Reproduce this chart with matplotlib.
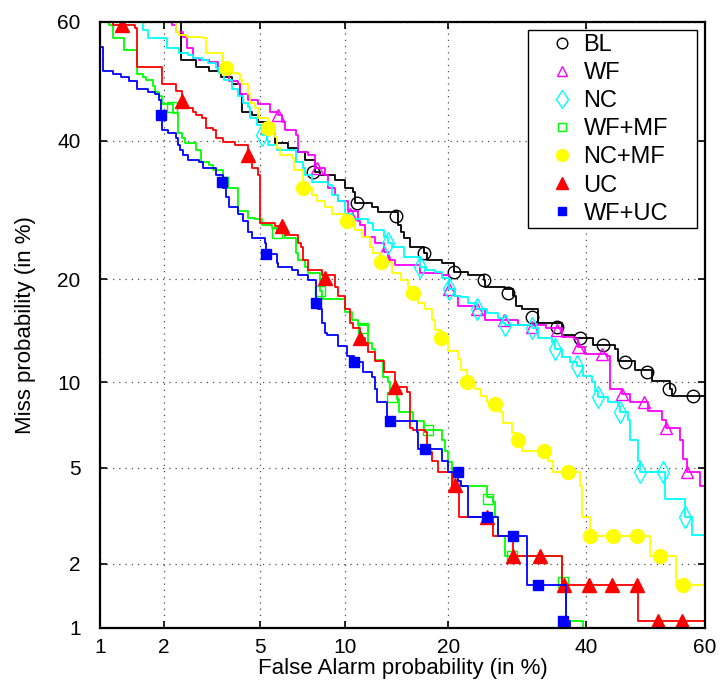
import math
import numpy as np
import matplotlib
matplotlib.use('Agg')
import matplotlib.pyplot as plt

plt.rcParams['font.family'] = ['Liberation Sans', 'DejaVu Sans']

# DET curves: (false alarm %, miss %) step points
bl_curve = [(2.39, 65), (2.39, 53.7), (2.75, 52.5), (3.13, 51.7), (3.52, 50.7), (3.9, 49.5),
            (4.2, 47.8), (4.28, 44.8), (4.68, 44.3), (4.92, 43.2), (5.38, 42.2), (5.71, 39.7),
            (6.39, 38.8), (6.94, 38.2), (7.35, 36.9), (7.94, 35), (8.27, 34.5), (9.29, 33.8),
            (10.0, 32.5), (10.64, 31.9), (10.8, 30.3), (12.18, 29.6), (12.73, 28.9), (14.55, 27.1),
            (14.9, 26.1), (15.2, 25.3), (15.8, 24), (17.2, 23.2), (17.6, 22.4), (19.3, 22),
            (20.7, 20.9), (22.4, 20.5), (24.5, 19.9), (24.7, 19.1), (27.5, 18.8), (28.6, 18),
            (29.1, 16.9), (29.9, 16.6), (32.4, 15.2), (36.1, 14), (38.1, 13.7), (41.2, 13.1),
            (44.8, 12.7), (45.3, 11.7), (48.2, 11.0), (51.1, 10.1), (54.2, 9.5), (54.5, 9.0),
            (62, 9.0)]
wf_curve = [(2.18, 65), (2.18, 59.5), (2.27, 58.3), (2.43, 57.5), (2.53, 55.7), (2.67, 54),
            (2.83, 53.7), (3.13, 53.3), (3.42, 51.7), (3.61, 51.2), (3.77, 50), (4.12, 49.5),
            (4.2, 47.8), (4.52, 46.9), (4.92, 46.1), (5.48, 44.8), (5.86, 44.3), (6.06, 43.2),
            (6.22, 41.8), (6.78, 41), (6.94, 38.2), (7.53, 37.7), (7.94, 35.6), (8.6, 34.5),
            (8.8, 32.5), (9.29, 31.5), (9.5, 30.5), (10.24, 29), (11.04, 27.6), (11.2, 27.1),
            (11.6, 25.4), (12.45, 24.6), (13.2, 23.4), (13.6, 22.4), (14.27, 21.75), (16.84, 20.75),
            (19.3, 20.5), (20.1, 18.9), (20.8, 18), (21.2, 16.9), (23.5, 16.6), (24.7, 15.5),
            (29.3, 15), (33.5, 14.7), (36.1, 13.8), (38.1, 13.6), (38.7, 12.9), (39.8, 12.3),
            (43.5, 12.1), (44, 9.5), (46, 9.14), (47.3, 8.6), (50.4, 8), (52.8, 7.5),
            (53.5, 7), (55.8, 6.37), (56.3, 5.38), (57, 4.84), (59.2, 4.24), (62, 4.24)]
nc_curve = [(1.61, 65), (1.61, 58.7), (1.7, 57.3), (2.07, 55.7), (2.32, 54.8), (2.56, 54.5),
            (2.67, 54), (2.94, 53.7), (3.1, 53.2), (3.35, 52.3), (3.45, 51.5), (3.61, 50.3),
            (3.9, 48.7), (4.12, 47.5), (4.32, 46.4), (4.48, 45.7), (4.6, 43.8), (4.88, 42.7),
            (5.1, 41), (5.33, 40.2), (5.38, 39.3), (5.81, 38.5), (6.78, 36.6), (7.18, 35.6),
            (7.35, 34.5), (7.76, 33.5), (8.8, 33), (9.07, 31.5), (9.5, 30.5), (10, 28.6),
            (10.56, 27.9), (11.84, 27.4), (12.27, 26.4), (13.2, 25.4), (13.6, 24.6), (14, 24.1),
            (15.2, 22.8), (16.84, 21.5), (17.4, 21.1), (18.5, 20.9), (19.3, 20.1), (20.1, 18.9),
            (20.8, 18), (21.6, 17.9), (22.4, 17.3), (23.6, 16.6), (25, 16.2), (26.5, 15.7),
            (27.2, 15.2), (27.5, 15), (31.4, 14.7), (32.4, 13.7), (34.5, 13.4), (35, 12.7),
            (36.1, 12), (37.4, 11.6), (38.5, 11.3), (39.5, 10.5), (41, 10), (41.5, 9.36),
            (42, 8.93), (43.7, 8.6), (45.3, 8.33), (45.7, 7.94), (47, 7.5), (47.3, 6.37),
            (48.7, 5.29), (49, 4.8), (53.3, 3.77), (56.7, 3.2), (57.8, 2.68), (62, 2.68)]
wfmf_curve = [(1.11, 65), (1.11, 59.5), (1.16, 57.3), (1.3, 55.3), (1.5, 51.2), (1.61, 50.8),
              (1.65, 50.3), (1.78, 49.2), (1.83, 48.2), (1.89, 47.5), (1.96, 46.1), (2.2, 44.7),
              (2.3, 41.3), (2.41, 40.5), (2.48, 39.7), (2.75, 38.5), (2.89, 36.6), (3.13, 36.1),
              (3.26, 35.3), (3.58, 33.5), (3.74, 32.5), (4.12, 29), (4.52, 28.1), (4.8, 27.9),
              (5.1, 27.1), (5.57, 26.7), (5.81, 26), (6.22, 25.3), (6.78, 23.3), (6.94, 22.4),
              (7.35, 21.5), (7.53, 20.75), (8.27, 18.6), (8.4, 17.7), (10, 16.3), (10.56, 15.5),
              (11.04, 15), (11.84, 13.3), (12.18, 12.7), (12.45, 11.8), (13.1, 10.4), (13.6, 10),
              (13.8, 9.36), (14.45, 8.8), (14.7, 7.94), (16.05, 7.4), (17.2, 6.9), (19.3, 6.37),
              (19.6, 5.76), (20, 5.24), (20.5, 4.92), (20.6, 4.44), (21.4, 4.24), (25, 3.83),
              (25.8, 3.67), (26.1, 3.2), (26.4, 2.66), (27.5, 2.16), (36.1, 1.65), (36.8, 1.08),
              (39.5, 0.9)]
ncmf_curve = [(2.25, 65), (2.25, 58.3), (2.32, 57.8), (2.53, 57.5), (2.97, 57.3), (3.03, 54.8),
              (3.58, 52.3), (3.9, 51.5), (4.12, 51.2), (4.2, 50.3), (4.28, 49.5), (4.48, 47.8),
              (4.6, 46.4), (4.8, 45.5), (4.92, 43.8), (5.38, 42.2), (5.71, 40.7), (5.81, 38.8),
              (5.95, 37.7), (6.6, 37.3), (6.67, 35.3), (7.18, 35), (7.23, 32.5), (7.76, 31.5),
              (8.07, 30.5), (8.6, 29.6), (9.07, 28.6), (10, 27.6), (10.8, 26.4), (11.36, 25.4),
              (12, 24.1), (12.27, 23.3), (13, 22.1), (14, 20.75), (14.9, 19.9), (15.6, 19.1),
              (16.1, 18.4), (16.6, 17.3), (17.4, 16.6), (18.1, 15.5), (18.5, 14.5), (19.2, 13.7),
              (20, 12.6), (21.2, 11.84), (21.6, 11), (22.3, 10), (23.4, 9.5), (24.1, 9),
              (25, 8.6), (26, 8.47), (26.8, 7.94), (27.2, 7.31), (28.4, 6.7), (29.4, 6.37),
              (29.9, 5.8), (33.8, 5.29), (34.7, 4.8), (39, 4.24), (39.3, 3.2), (40.7, 2.66),
              (50.7, 2.16), (55.2, 1.61), (62, 1.61)]
uc_curve = [(1.16, 65), (1.16, 59.5), (1.47, 59), (1.5, 52.5), (1.96, 49.5), (2.25, 48.3),
            (2.41, 46.6), (2.48, 45.5), (2.67, 44.8), (2.75, 44.3), (2.94, 43.8), (3.03, 42.2),
            (3.26, 41.8), (3.35, 40.5), (3.58, 39.8), (4, 39.3), (4.48, 37.7), (4.6, 36.6),
            (4.68, 35.6), (4.92, 34.5), (5.0, 27.4), (5.71, 26.9), (6.22, 25.7), (6.89, 24.6),
            (7.06, 24.1), (7.23, 22.4), (7.53, 21.1), (8.4, 20.5), (9.29, 19.1), (9.5, 18),
            (10, 16.6), (10.4, 15.2), (10.64, 14.7), (11.2, 13.7), (11.6, 13.3), (11.84, 12.5),
            (12.45, 11.7), (13.2, 10.8), (14.27, 9.64), (15.44, 9.3), (15.8, 7.0), (16.05, 6.9),
            (17.4, 6.8), (17.6, 5.71), (18.1, 5.29), (18.8, 4.8), (20.5, 4.2), (21.3, 3.2),
            (25.8, 2.66), (28.6, 2.16), (36.1, 1.61), (48.7, 1.08), (62, 1.08)]
wfuc_curve = [(0.9, 55.8), (1.03, 51.7), (1.16, 51.2), (1.27, 50.7), (1.38, 50), (1.5, 48.7),
              (1.7, 48.2), (1.83, 47.8), (1.89, 46.9), (1.94, 44.3), (1.96, 41.8), (2.09, 41.3),
              (2.25, 40.5), (2.3, 39.3), (2.36, 38.5), (2.43, 37.7), (2.56, 36.9), (2.83, 36.6),
              (2.97, 35.6), (3.35, 34.5), (3.58, 32.5), (3.68, 31.2), (3.77, 29.6), (4.12, 28.6),
              (4.32, 27.6), (4.52, 26.1), (4.68, 25.3), (5.24, 24.6), (5.29, 23.1), (5.81, 22),
              (5.86, 21.5), (6.6, 21.1), (6.89, 20.5), (7.53, 19.9), (8, 17.3), (8.13, 16.6),
              (8.4, 15.2), (8.6, 14.2), (8.73, 14), (9.5, 13), (10.16, 12.1), (10.72, 11.6),
              (11.44, 10.8), (12.18, 10.4), (12.45, 9.5), (12.6, 8.6), (13.55, 7.4), (16.5, 6.8),
              (16.6, 5.86), (19.3, 5.29), (20, 4.8), (21.2, 4.44), (21.6, 4.24), (22.4, 3.2),
              (26.4, 2.66), (30.6, 1.61), (36.8, 1.08), (37.4, 0.9)]

# marker positions along each curve
bl_marks = [(7.8, 35), (10.9, 30.3), (14.4, 28.3), (17.2, 23.2), (20.7, 20.9), (24.5, 19.9),
            (27.9, 18.4), (31.4, 15.8), (35.3, 14.8), (39, 13.7), (42.8, 13.1), (46.5, 11.6),
            (50.2, 10.8), (54, 9.5), (58, 9)]
wf_marks = [(5.86, 44.3), (8.05, 35.6), (10.4, 28.6), (13.2, 23.4), (20.1, 18.9), (23.6, 16.6),
            (27.3, 15.5), (31.4, 14.8), (35.3, 14.5), (38.7, 12.9), (42.7, 12.3), (46, 9.14),
            (49.8, 8.6), (53.5, 7), (57, 4.84)]
nc_marks = [(5.1, 41), (13.6, 24.6), (16.8, 21.5), (20.1, 18.9), (23.6, 16.6), (27.5, 15),
            (31.4, 14.7), (35, 12.7), (38.5, 11.3), (42, 8.93), (45.7, 7.94), (49, 4.8),
            (53, 4.8), (56.7, 3.2)]
wfmf_marks = [(2.18, 45.7), (3.58, 33.5), (5.81, 26), (8.27, 18.6), (11.44, 14.7), (14, 8.93),
              (17.7, 6.9), (25.1, 3.77), (28.4, 2.16), (36.2, 1.65)]
ncmf_marks = [(3.68, 52.3), (5.38, 42.2), (7.23, 32.5), (10.16, 27.6), (13, 22.1), (16.1, 18.4),
              (19.2, 13.7), (22.3, 10), (26, 8.47), (29.4, 6.37), (33.3, 5.8), (37.05, 4.8),
              (40.7, 2.66), (44.5, 2.66), (48.5, 2.66), (52.5, 2.16), (56.3, 1.61)]
uc_marks = [(1.28, 59.5), (2.41, 46.6), (4.48, 37.7), (6.06, 26.9), (8.6, 20.1), (11.2, 13.7),
            (14.27, 9.64), (20.8, 4.3), (24.9, 3.2), (28.6, 2.16), (32.7, 2.16), (36.4, 1.61),
            (40.5, 1.61), (44.3, 1.61), (48.5, 1.61), (52.2, 1.08), (56.2, 1.08)]
wfuc_marks = [(1.94, 44.3), (3.55, 33.5), (5.29, 23.1), (8, 17.3), (10.72, 11.6), (13.8, 7.4),
              (17.4, 5.86), (21.2, 4.8), (25, 3.2), (28.6, 2.66), (32.4, 1.61), (36.2, 1.08)]

tick_vals = [1, 2, 5, 10, 20, 40, 60]
tick_labels = ['1', '2', '5', '10', '20', '40', '60']


# probit (normal deviate) scale, Acklam's approximation for the inverse
def ppf(pct):
    p = np.clip(np.asarray(pct, dtype=float) / 100.0, 1e-10, 1 - 1e-10)
    a = [-3.969683028665376e+01, 2.209460984245205e+02, -2.759285104469687e+02,
         1.383577518672690e+02, -3.066479806614716e+01, 2.506628277459239e+00]
    b = [-5.447609879822406e+01, 1.615858368580409e+02, -1.556989798598866e+02,
         6.680131188771972e+01, -1.328068155288572e+01]
    c = [-7.784894002430293e-03, -3.223964580411365e-01, -2.400758277161838e+00,
         -2.549671010229583e+00, 4.374664141464968e+00, 2.938163982698783e+00]
    d = [7.784695709041462e-03, 3.224671290700398e-01, 2.445134137142996e+00,
         3.754408661907416e+00]
    plow = 0.02425
    lo = p < plow
    hi = p > 1 - plow

    def tail(q):
        return ((((((c[0]*q + c[1])*q + c[2])*q + c[3])*q + c[4])*q + c[5]) /
                ((((d[0]*q + d[1])*q + d[2])*q + d[3])*q + 1))

    q_lo = np.sqrt(-2 * np.log(np.where(lo, p, 0.5)))
    q_hi = np.sqrt(-2 * np.log(np.where(hi, 1 - p, 0.5)))
    q = p - 0.5
    r = q * q
    mid = ((((((a[0]*r + a[1])*r + a[2])*r + a[3])*r + a[4])*r + a[5]) * q /
           (((((b[0]*r + b[1])*r + b[2])*r + b[3])*r + b[4])*r + 1))
    return np.where(lo, tail(q_lo), np.where(hi, -tail(q_hi), mid))


_erf = np.vectorize(math.erf)


def cdf(z):
    z = np.asarray(z, dtype=float)
    return 50.0 * (1.0 + _erf(z / math.sqrt(2.0)))


fig = plt.figure(figsize=(7.2, 6.84), dpi=100)
ax = fig.add_axes([0.139, 0.082, 0.840, 0.886])
ax.set_xscale('function', functions=(ppf, cdf))
ax.set_yscale('function', functions=(ppf, cdf))

series = [
    ('BL', bl_curve, bl_marks, 'k', 'o', 'none', 9),
    ('WF', wf_curve, wf_marks, '#ff00ff', '^', 'none', 9),
    ('NC', nc_curve, nc_marks, '#00ffff', 'd', 'none', 11),
    ('WF+MF', wfmf_curve, wfmf_marks, '#00ff00', 's', 'none', 7),
    ('NC+MF', ncmf_curve, ncmf_marks, '#ffff00', 'o', '#ffff00', 10),
    ('UC', uc_curve, uc_marks, '#ff0000', '^', '#ff0000', 10),
    ('WF+UC', wfuc_curve, wfuc_marks, '#0000ff', 's', '#0000ff', 7),
]

handles = []
for name, curve, marks, color, mk, face, ms in series:
    fa, miss = np.array(curve).T
    ax.plot(fa, miss, color=color, lw=1.3, drawstyle='steps-post')
    mfa, mmiss = np.array(marks).T
    h, = ax.plot(mfa, mmiss, ls='none', marker=mk, ms=ms, mfc=face, mec=color,
                 mew=1.0, label=name)
    handles.append(h)

ax.set_xlim(1, 60)
ax.set_ylim(1, 60)
ax.set_xticks(tick_vals)
ax.set_xticklabels(tick_labels)
ax.set_yticks(tick_vals)
ax.set_yticklabels(tick_labels)
ax.xaxis.set_minor_locator(matplotlib.ticker.NullLocator())
ax.yaxis.set_minor_locator(matplotlib.ticker.NullLocator())
ax.tick_params(which='both', direction='in', top=True, right=True, length=5, width=1.2,
               labelsize=15)
ax.tick_params(axis='y', pad=14)
ax.tick_params(axis='x', pad=7)
ax.grid(True, color='k', ls=(0, (1, 4)), lw=0.9, alpha=0.7)
for sp in ax.spines.values():
    sp.set_linewidth(1.6)

ax.set_xlabel('False Alarm probability (in %)', fontsize=16, labelpad=1)
ax.set_ylabel('Miss probability (in %)', fontsize=16, labelpad=15)

# legend box spans a fixed width, markers only
leg = ax.legend(handles=handles, loc='upper left', bbox_to_anchor=(0.7074, 0.5, 0.2794, 0.486),
                mode='expand', borderaxespad=0, fontsize=17, frameon=True, fancybox=False,
                edgecolor='k', framealpha=1, labelspacing=0.26, handlelength=2.55,
                handletextpad=-0.35, borderpad=0.15, markerscale=0.85)
leg.get_frame().set_linewidth(1.0)

fig.savefig('out.png', dpi=100)
